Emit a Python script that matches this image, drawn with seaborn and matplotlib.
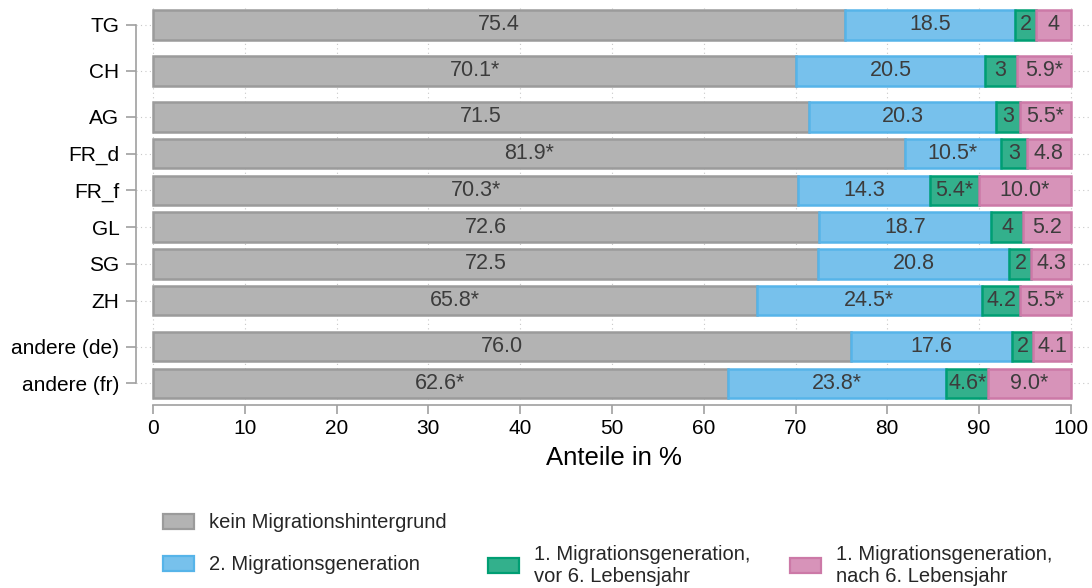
#!/usr/bin/env python3
"""Stacked shares by migration background per canton / region."""

import matplotlib

matplotlib.use("Agg")
import matplotlib.pyplot as plt
import numpy as np
import seaborn as sns
from matplotlib.patches import Patch

categories = ["TG", "CH", "AG", "FR_d", "FR_f", "GL", "SG", "ZH", "andere (de)", "andere (fr)"]
# a little extra space is left after these rows
gap_after = ["TG", "CH", "ZH"]

kein = [75.4, 70.1, 71.5, 81.9, 70.3, 72.6, 72.5, 65.8, 76.0, 62.6]
zweite = [18.5, 20.5, 20.3, 10.5, 14.3, 18.7, 20.8, 24.5, 17.6, 23.8]
vor6 = [2.3, 3.5, 2.7, 2.8, 5.4, 3.5, 2.4, 4.2, 2.3, 4.6]
nach6 = [3.8, 5.9, 5.5, 4.8, 10.0, 5.2, 4.3, 5.5, 4.1, 9.0]

kein_lbl = ["75.4", "70.1*", "71.5", "81.9*", "70.3*", "72.6", "72.5", "65.8*", "76.0", "62.6*"]
zweite_lbl = ["18.5", "20.5", "20.3", "10.5*", "14.3", "18.7", "20.8", "24.5*", "17.6", "23.8*"]
vor6_lbl = ["2", "3", "3", "3", "5.4*", "4", "2", "4.2", "2", "4.6*"]
nach6_lbl = ["4", "5.9*", "5.5*", "4.8", "10.0*", "5.2", "4.3", "5.5*", "4.1", "9.0*"]

series_names = [
    "kein Migrationshintergrund",
    "2. Migrationsgeneration",
    "1. Migrationsgeneration,\nvor 6. Lebensjahr",
    "1. Migrationsgeneration,\nnach 6. Lebensjahr",
]

FILLS = ["#b3b3b3", "#77c1ec", "#33b08c", "#d793b9"]
EDGES = ["#9b9b9b", "#56b4e9", "#009e73", "#cc79a7"]
TXT = "#3c3c3c"
AXCOL = "#a0a0a0"

sns.set_theme(style="white")
plt.rcParams["font.family"] = ["Liberation Sans", "DejaVu Sans"]

# y positions with the small group gaps
pos = []
y = 0.0
for cat in categories:
    pos.append(y)
    y += 1.25 if cat in gap_after else 1.0
pos = np.array(pos)

fig = plt.figure(figsize=(10.92, 5.88), dpi=100)
ax = fig.add_axes([136 / 1092, 1 - 400 / 588, 956 / 1092, 392 / 588])

left = np.zeros(len(categories))
for vals, lbls, fc, ec in zip(
    [kein, zweite, vor6, nach6], [kein_lbl, zweite_lbl, vor6_lbl, nach6_lbl], FILLS, EDGES
):
    vals = np.array(vals)
    bars = ax.barh(pos, vals, left=left, height=0.8, color=fc, edgecolor=ec,
                   linewidth=1.8, zorder=3)
    ax.bar_label(bars, labels=lbls, label_type="center", color=TXT, fontsize=15.5)
    left += vals

ax.set_xlim(-1.85, 102.3)
ax.set_ylim(10.2, -0.46)

ax.set_xticks(np.arange(0, 101, 10))
ax.set_yticks(pos)
ax.set_yticklabels(categories)
ax.grid(True, color="#c8c8c8", linestyle=(0, (1, 3)), linewidth=0.8, zorder=0)

for s in ["top", "right"]:
    ax.spines[s].set_visible(False)
ax.spines["left"].set_bounds(pos[0], pos[-1])
ax.spines["left"].set_color(AXCOL)
ax.spines["left"].set_linewidth(1.2)
ax.spines["bottom"].set_bounds(0, 100)
ax.spines["bottom"].set_position(("outward", 3.5))
ax.spines["bottom"].set_color(AXCOL)
ax.spines["bottom"].set_linewidth(1.2)

ax.tick_params(axis="y", length=7, width=1.2, color=AXCOL, pad=5, labelsize=15,
               labelcolor="black", left=True)
ax.tick_params(axis="x", length=6.5, width=1.2, color=AXCOL, pad=3.5, labelsize=15,
               labelcolor="black", bottom=True)
ax.set_xlabel("Anteile in %", fontsize=18.5, labelpad=6, color="black")

# legend entries placed one by one so the rows line up as in the original
legend_spots = [(163, 523), (163, 565), (488, 565), (790, 565)]
for name, fc, ec, (px, py) in zip(series_names, FILLS, EDGES, legend_spots):
    h = Patch(facecolor=fc, edgecolor=ec, linewidth=1.6)
    fig.legend(handles=[h], labels=[name], loc="center left",
               bbox_to_anchor=(px / 1092, 1 - py / 588), frameon=False,
               fontsize=14.5, borderpad=0, borderaxespad=0,
               handlelength=1.55, handleheight=0.75, handletextpad=0.75)

fig.savefig("out.png", dpi=100)
plt.close(fig)
